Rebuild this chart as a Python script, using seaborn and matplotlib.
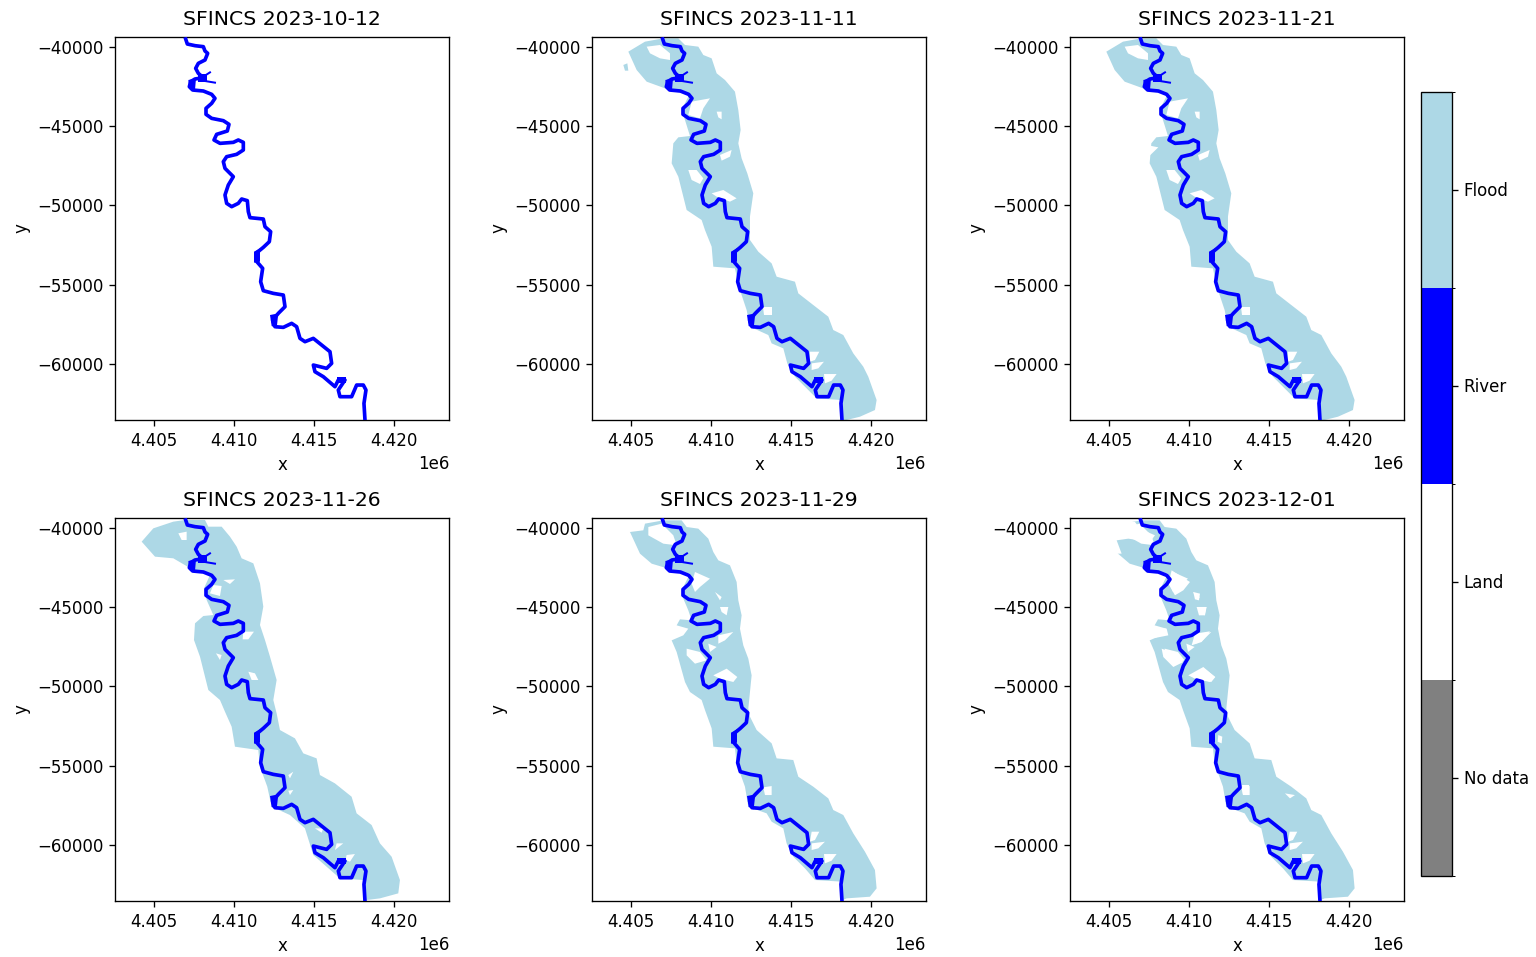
#!/usr/bin/env python3

import matplotlib
matplotlib.use("Agg")
import matplotlib.pyplot as plt
import numpy as np
import pandas as pd
import seaborn as sns

from matplotlib.cm import ScalarMappable
from matplotlib.colors import BoundaryNorm, ListedColormap

dates = ["2023-10-12", "2023-11-11", "2023-11-21",
         "2023-11-26", "2023-11-29", "2023-12-01"]
class_labels = ["No data", "Land", "River", "Flood"]
class_colors = ["grey", "white", "blue", "lightblue"]

# river centre line
river_x = [4406977, 4407081, 4407560, 4408081, 4408185, 4408352, 4408185, 4407769, 4407602, 4407769,
           4408081, 4407560, 4407289, 4407206, 4407414, 4408081, 4408602, 4408810, 4408602, 4408248,
           4408248, 4408602, 4409331, 4409685, 4409581, 4408914, 4408748, 4409123, 4409956, 4410268,
           4410581, 4410581, 4410164, 4409539, 4409331, 4409435, 4409956, 4409643, 4409435, 4409539,
           4409852, 4410268, 4410477, 4410831, 4410893, 4410997, 4411830, 4411935, 4412289, 4412206,
           4411831, 4411373, 4411373, 4411789, 4411664, 4411831, 4412456, 4413081, 4413185, 4412768,
           4412414, 4412560, 4413081, 4413602, 4413914, 4414122, 4414435, 4414956, 4415477, 4415997,
           4416101, 4415789, 4414956, 4415060, 4415581, 4416310, 4416518, 4416935, 4416518, 4416622,
           4417351, 4417664, 4418081, 4418247, 4418122, 4418185]
river_y = [-39496, -39812, -39917, -39980, -40253, -40401, -40821, -41032, -41347, -41662,
           -41936, -42020, -42188, -42504, -42714, -42777, -42987, -43240, -43555, -43871,
           -44249, -44502, -44649, -44880, -45301, -45511, -45868, -46079, -46016, -45868,
           -46016, -46499, -46773, -46920, -47235, -47656, -48182, -48708, -49338, -49864,
           -50074, -49864, -49591, -49696, -50390, -50768, -50853, -51338, -51653, -52284,
           -52641, -53020, -53483, -53966, -54808, -55375, -55544, -55649, -56385, -56805,
           -57226, -57647, -57689, -57436, -57647, -58383, -58593, -58383, -58803, -59224,
           -59960, -60275, -60065, -60486, -60801, -61432, -61011, -61011, -61642, -62063,
           -62063, -61327, -61327, -61642, -62484, -63535]

side_channels = [
    [(4408081, -41873), (4408498, -41600)],
    [(4408185, -42146), (4408810, -42251)],
]
# places where the channel is wider than the line
river_blobs = [
    [(4407769, -41726), (4408331, -41726), (4408331, -42230), (4407769, -42230)],
    [(4407144, -42083), (4407623, -41978), (4407560, -42714), (4407206, -42651)],
    [(4411248, -52915), (4411623, -52705), (4411623, -53546), (4411248, -53609)],
    [(4412248, -56911), (4412768, -56805), (4412664, -57752), (4412352, -57605)],
    [(4416414, -60801), (4416997, -60801), (4416997, -61222), (4416414, -61222)],
]

flood_a = [
    (4407018, -39454), (4407955, -39454), (4408372, -39874), (4409205, -39980), (4409517, -40505),
    (4410038, -40716), (4410351, -41662), (4410872, -42083), (4411496, -42819), (4411705, -43975),
    (4411851, -45237), (4411705, -46078), (4411913, -47025), (4412267, -47971), (4412642, -49233),
    (4412433, -50705), (4412435, -51548), (4412435, -52179), (4412955, -52915), (4413788, -53651),
    (4414101, -54492), (4415247, -54808), (4415455, -55544), (4416392, -56280), (4417330, -57016),
    (4417642, -57857), (4418267, -58172), (4418892, -59329), (4419517, -60170), (4419829, -60801),
    (4420350, -62273), (4420246, -62904), (4419308, -63325), (4418475, -63535), (4418163, -63535),
    (4418163, -62273), (4416600, -62168), (4415976, -61537), (4415247, -60801), (4414767, -59960),
    (4414518, -59013), (4413788, -58698), (4413580, -58172), (4412435, -57647), (4412226, -56595),
    (4411705, -55018), (4411497, -53966), (4410143, -53861), (4410039, -52599), (4409622, -51548),
    (4409414, -50917), (4408476, -50284), (4407955, -48181), (4407539, -47340), (4407643, -46078),
    (4407955, -45700), (4408684, -45616), (4408372, -44606), (4408163, -43975), (4408684, -42924),
    (4407643, -42819), (4407122, -42608), (4405976, -42188), (4405351, -41452), (4404831, -40295),
    (4405872, -39664),
]
island_a = [(4404518, -41136), (4404768, -41031), (4404831, -41494), (4404622, -41494)]
holes_a = [
    [(4405976, -39980), (4406810, -39874), (4407434, -40400), (4407434, -40821), (4406810, -40716), (4406185, -40400)],
    [(4408580, -47761), (4409101, -47761), (4409517, -48286), (4409309, -48644), (4408788, -48392)],
    [(4410559, -46814), (4411288, -46499), (4411184, -46919), (4410663, -47172)],
    [(4410038, -49233), (4410768, -49022), (4411600, -49548), (4411184, -49758), (4410351, -49443)],
    [(4408788, -43449), (4409934, -43239), (4409517, -43870), (4409309, -44501), (4408580, -44291)],
    [(4410351, -44080), (4410663, -44080), (4410663, -44564), (4410455, -44438)],
    [(4416184, -59224), (4416767, -59224), (4416496, -59750), (4416184, -59855)],
    [(4416288, -59960), (4417059, -59855), (4416705, -60275), (4416288, -60381)],
    [(4417059, -60633), (4417850, -60633), (4417538, -61053), (4417121, -61222)],
    [(4413268, -56427), (4413788, -56427), (4413788, -56910), (4413309, -56910)],
]
extra_land_1121 = [
    [(4407351, -46183), (4408080, -46331), (4407518, -46877), (4407351, -46814)],
]

flood_b = [
    (4406935, -39496), (4408185, -39496), (4408393, -39917), (4409226, -39917), (4409747, -40547),
    (4410164, -41178), (4410476, -41914), (4411205, -42230), (4411622, -43492), (4411830, -44964),
    (4411622, -46120), (4411934, -47067), (4412247, -48118), (4412663, -49590), (4412455, -50852),
    (4412663, -51695), (4412871, -52747), (4413808, -53272), (4414329, -54218), (4415162, -54534),
    (4415371, -55586), (4416308, -56112), (4417349, -56953), (4417662, -58004), (4418599, -58740),
    (4419120, -59897), (4419849, -60738), (4420370, -62210), (4420266, -63051), (4419120, -63367),
    (4418287, -63472), (4418079, -63472), (4418079, -62210), (4416620, -62105), (4415787, -61369),
    (4414954, -60633), (4414433, -58950), (4413496, -58109), (4412350, -57584), (4412079, -56322),
    (4411621, -55060), (4411517, -54008), (4410059, -53798), (4409851, -52536), (4409434, -51590),
    (4409122, -50854), (4408393, -50221), (4407872, -48118), (4407497, -47067), (4407560, -46015),
    (4408081, -45553), (4408706, -45490), (4408289, -44543), (4408122, -43807), (4408497, -42966),
    (4407455, -42650), (4406206, -41914), (4405060, -41809), (4404227, -40863), (4404956, -40022),
    (4406206, -39601),
]
holes_b = [
    [(4406518, -40337), (4407039, -40232), (4407039, -40758), (4406727, -40758)],
    [(4409331, -43281), (4410059, -43239), (4409747, -43534)],
    [(4410580, -46541), (4411246, -46541), (4410893, -47025), (4410539, -47025)],
    [(4410893, -49065), (4411309, -49170), (4411518, -49590), (4411101, -49590)],
    [(4408872, -47908), (4409226, -48013), (4409122, -48328)],
    [(4408706, -43597), (4409226, -43660), (4409122, -44291), (4408497, -44123)],
    [(4415058, -58950), (4415579, -58950), (4415475, -59224)],
    [(4416412, -59897), (4416828, -59897), (4416308, -60318)],
    [(4417037, -60633), (4417558, -60570), (4417246, -61053), (4416975, -60948)],
    [(4413392, -56574), (4413704, -56532), (4413496, -56848)],
    [(4413392, -55586), (4413704, -55375), (4413496, -55796)],
]

flood_c = [
    (4407018, -39517), (4408164, -39517), (4408476, -39937), (4409205, -40042), (4409830, -40673),
    (4410142, -41514), (4410455, -42040), (4411184, -42356), (4411601, -43407), (4411705, -44564),
    (4411913, -45510), (4411809, -46352), (4412017, -47403), (4412330, -48244), (4412538, -49296),
    (4412434, -50347), (4412330, -51399), (4412434, -51906), (4412851, -52747), (4413789, -53588),
    (4414101, -54534), (4415142, -54639), (4415455, -55691), (4416392, -56322), (4417330, -57058),
    (4417642, -57794), (4418267, -58109), (4418892, -59266), (4419621, -60423), (4420246, -61579),
    (4420350, -62736), (4419933, -63262), (4418475, -63367), (4418225, -63472), (4418225, -62315),
    (4416496, -62210), (4415871, -61474), (4415142, -60738), (4414726, -59897), (4414518, -58950),
    (4413789, -58530), (4413476, -58004), (4412330, -57584), (4412122, -56322), (4411601, -54850),
    (4411497, -53903), (4410143, -53798), (4410039, -52642), (4409622, -51485), (4409414, -50854),
    (4408684, -50347), (4408372, -49716), (4407851, -47824), (4407539, -47088), (4408268, -46772),
    (4408580, -46352), (4407851, -46141), (4408059, -45763), (4408788, -45826), (4408580, -45195),
    (4408268, -44459), (4408268, -43723), (4408684, -42882), (4407331, -42566), (4406289, -42251),
    (4405560, -41620), (4404935, -40253), (4405768, -40148), (4405872, -39727),
]
holes_c = [
    [(4406081, -39937), (4406914, -39727), (4407643, -40463), (4407851, -41094), (4407018, -40989), (4406081, -40463)],
    [(4408997, -42776), (4409934, -43197), (4409309, -43723), (4408997, -44038), (4408789, -43512)],
    [(4410247, -44038), (4410663, -44354), (4410559, -44564)],
    [(4410559, -44984), (4411080, -44984), (4410976, -45510), (4410663, -45300)],
    [(4410455, -46772), (4411392, -46562), (4410871, -47088), (4410455, -47298)],
    [(4408476, -47613), (4409309, -47824), (4409726, -48349), (4408997, -48560), (4408476, -48034)],
    [(4409830, -47298), (4410351, -47508), (4409934, -47824)],
    [(4410142, -49296), (4410976, -48875), (4411643, -49401), (4411393, -49716), (4410559, -49506)],
    [(4413268, -56364), (4413789, -56280), (4413789, -56848), (4413372, -56848)],
    [(4416288, -59161), (4416767, -59161), (4416496, -59687), (4416184, -59792)],
    [(4416288, -59897), (4417121, -59792), (4416705, -60212), (4416288, -60318)],
    [(4417059, -60570), (4417850, -60570), (4417538, -60990), (4417121, -61159)],
]
extra_land_1201 = [
    [(4404747, -39622), (4406622, -39622), (4406934, -40042), (4407871, -40463), (4407559, -40884),
     (4406205, -40673), (4405476, -40779), (4405788, -41620), (4404747, -41620)],
    [(4408913, -42671), (4410058, -43407), (4409642, -43933), (4409121, -44248), (4408705, -43512)],
    [(4410267, -44038), (4410683, -44143), (4410621, -44564), (4410371, -44501)],
    [(4410475, -44984), (4411100, -44984), (4410996, -45510), (4410621, -45510)],
    [(4410371, -46667), (4411308, -46520), (4410788, -47193), (4410163, -47403)],
    [(4408288, -47613), (4409121, -47929), (4409642, -48455), (4409017, -48770), (4408392, -48139)],
    [(4409954, -49296), (4410892, -48770), (4411621, -49401), (4411308, -49716), (4410371, -49506)],
    [(4407559, -46246), (4408601, -46351), (4408705, -46772), (4407871, -46940), (4407559, -46877)],
    [(4411830, -53062), (4412080, -53167), (4412038, -53588), (4411788, -53483)],
    [(4413288, -56217), (4413746, -56217), (4413746, -56848), (4413392, -56848)],
    [(4415996, -56743), (4416621, -56849), (4416309, -57058)],
]

panels = [
    (None, []),
    (flood_a, holes_a),
    (flood_a, holes_a + extra_land_1121),
    (flood_b, holes_b),
    (flood_c, holes_c),
    (flood_c, holes_c + extra_land_1201),
]
islands = {1: island_a}


def fill_poly(ax, pts, color, zorder):
    xs, ys = zip(*pts)
    ax.fill(xs, ys, color=color, lw=0, zorder=zorder)


W, H = 1536, 957
fig = plt.figure(figsize=(W / 120, H / 120), dpi=120)

lefts = [115, 592, 1070]
tops = [37, 518]
river_df = pd.DataFrame({"x": river_x, "y": river_y})

for i, date in enumerate(dates):
    left = lefts[i % 3]
    top = tops[i // 3]
    ax = fig.add_axes([left / W, 1 - (top + 383) / H, 334 / W, 383 / H])

    flood, holes = panels[i]
    if flood is not None:
        fill_poly(ax, flood, "lightblue", 1)
        for hole in holes:
            fill_poly(ax, hole, "white", 2)
    if i in islands:
        fill_poly(ax, islands[i], "lightblue", 1)

    sns.lineplot(data=river_df, x="x", y="y", sort=False, estimator=None, color="blue",
                 lw=2.2, ax=ax, zorder=3, solid_joinstyle="round", legend=False)
    for channel in side_channels:
        cx, cy = zip(*channel)
        sns.lineplot(x=np.array(cx), y=np.array(cy), sort=False, estimator=None, color="blue",
                     lw=1.2, ax=ax, zorder=3)
    for blob in river_blobs:
        fill_poly(ax, blob, "blue", 3)

    ax.set_xlim(4402560, 4423437)
    ax.set_ylim(-63533, -39370)
    ax.set_title(f"SFINCS {date}", fontsize=12.25, pad=7.2)
    ax.set_xlabel("x")
    ax.set_ylabel("y")

cmap = ListedColormap(class_colors)
edges = np.arange(5) - 0.5
norm = BoundaryNorm(edges, cmap.N)
cax = fig.add_axes([1421 / W, 1 - 875.5 / H, 31 / W, 784 / H])
cbar = fig.colorbar(ScalarMappable(norm=norm, cmap=cmap), cax=cax, spacing="proportional")
cbar.set_ticks(np.arange(4), labels=class_labels)
cbar.ax.minorticks_off()
cbar.outline.set_linewidth(0.8)
cbar.ax.yaxis.set_ticks(edges, minor=True)

fig.savefig("out.png", dpi=120)
